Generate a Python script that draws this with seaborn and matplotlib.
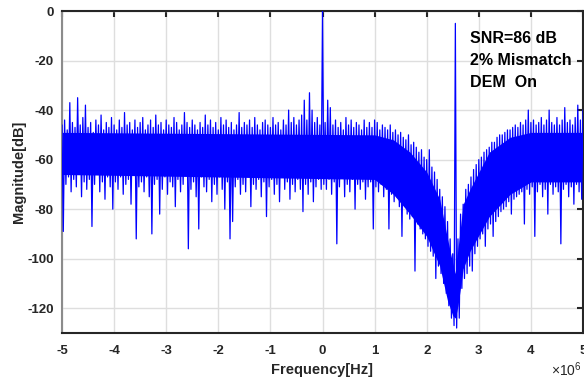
import numpy as np
import matplotlib
matplotlib.use("Agg")
import matplotlib.pyplot as plt
import matplotlib.ticker as mticker
import seaborn as sns

# FFT bin grid, -5 MHz .. 5 MHz
freq_hz = np.linspace(-5e6, 5e6, 401)

# magnitude, dB
mag_left_db = [  # -5.000 .. -0.025 MHz
    -46, -89, -44, -70, -48, -67, -37, -73, -45, -68, -47, -71, -35, -66, -46, -75, -43, -69, -38, -72,
    -47, -68, -45, -87, -49, -70, -44, -66, -46, -73, -42, -69, -48, -76, -45, -67, -47, -71, -43, -80,
    -46, -69, -48, -72, -44, -67, -47, -74, -41, -70, -46, -68, -45, -78, -48, -66, -44, -92, -47, -71,
    -45, -69, -43, -73, -48, -67, -46, -75, -44, -90, -47, -70, -42, -68, -46, -82, -45, -72, -48, -67,
    -44, -74, -46, -69, -47, -71, -43, -79, -45, -68, -48, -73, -46, -70, -41, -66, -45, -96, -47, -72,
    -44, -69, -46, -75, -48, -88, -45, -67, -47, -71, -42, -73, -46, -68, -44, -77, -47, -70, -45, -74,
    -48, -67, -43, -72, -46, -80, -44, -69, -47, -92, -45, -85, -48, -71, -46, -68, -41, -74, -47, -70,
    -45, -73, -46, -67, -44, -79, -47, -70, -43, -72, -46, -68, -48, -75, -45, -69, -44, -83, -46, -71,
    -47, -68, -43, -74, -46, -70, -45, -77, -48, -67, -44, -72, -46, -69, -40, -76, -45, -70, -43, -73,
    -46, -68, -44, -72, -42, -81, -36, -70, -44, -74, -33, -69, -40, -77, -45, -71, -43, -68, -46, -72,
]
tone_dc_db = [0]  # 0 Hz
mag_notch_db = [  # 0.025 .. 2.525 MHz
    -70, -45, -72, -36, -68, -39, -74, -46, -69, -44, -94, -47, -71, -45, -67, -48, -75, -43, -70, -46,
    -73, -44, -68, -47, -80, -45, -70, -46, -72, -48, -69, -44, -76, -47, -71, -45, -69, -47, -88, -44,
    -71, -45, -73, -48, -70, -46, -75, -47, -72, -48, -88, -46, -74, -49, -77, -48, -75, -50, -79, -49,
    -91, -51, -78, -52, -82, -50, -84, -54, -83, -53, -105, -55, -86, -57, -88, -56, -90, -59, -92, -60,
    -95, -56, -97, -63, -99, -65, -108, -68, -103, -72, -106, -75, -110, -79, -114, -85, -119, -92, -124, -98,
    -127,
]
tone_sig_db = [-5]  # 2.55 MHz
mag_right_db = [  # 2.575 .. 5.000 MHz
    -128, -92, -124, -82, -112, -78, -108, -72, -106, -70, -103, -67, -105, -64, -98, -62, -95, -60,
    -92, -59, -90, -57, -95, -56, -88, -55, -86, -53, -91, -53, -85, -51, -83, -50, -81, -50, -80, -49,
    -79, -48, -77, -48, -82, -47, -76, -46, -75, -47, -74, -45, -73, -46, -86, -44, -72, -40, -74, -45,
    -71, -44, -91, -46, -73, -45, -70, -43, -75, -46, -72, -44, -82, -40, -70, -45, -74, -46, -71, -43,
    -73, -46, -94, -44, -72, -39, -70, -45, -75, -44, -71, -46, -78, -43, -70, -38, -73, -44, -76, -40,
]
mag_db = np.concatenate([mag_left_db, tone_dc_db, mag_notch_db, tone_sig_db, mag_right_db]).astype(float)

# solid core of the noise band (where the trace is fully dense)
core_f_mhz = [-5, 1.0, 1.36, 1.68, 2.0, 2.25, 2.4, 2.5, 2.55, 2.6, 2.7, 2.83, 3.2, 3.6, 4.0, 5]
core_top_db = [-49, -50, -52, -57, -65, -76, -92, -102, -106, -96, -78, -72, -57, -51, -49, -49]
core_bot_db = [-66, -68, -74, -82, -91, -103, -117, -123, -124, -119, -104, -97, -83, -74, -69, -69]

note_lines = ["SNR=86 dB", "2% Mismatch", "DEM  On"]

sns.set_style("whitegrid")
plt.rcParams["font.family"] = ["Liberation Sans", "DejaVu Sans"]
plt.rcParams["axes.unicode_minus"] = False

fig = plt.figure(figsize=(5.84, 3.8), dpi=100)
ax = fig.add_axes([62 / 584, 47 / 380, 521 / 584, 322 / 380])

core_f_hz = np.array(core_f_mhz) * 1e6
ax.fill_between(core_f_hz, core_bot_db, core_top_db, color="#0000ff", linewidth=0, zorder=2)
sns.lineplot(x=freq_hz, y=mag_db, ax=ax, color="#0000ff", linewidth=0.9,
             estimator=None, sort=False, errorbar=None, zorder=3)

ax.set_xlim(-5e6, 5e6)
ax.set_ylim(-130, 0)
ax.set_xticks(np.arange(-5e6, 5.1e6, 1e6))
ax.set_yticks(np.arange(-120, 1, 20))
ax.xaxis.set_major_formatter(mticker.FuncFormatter(lambda v, p: f"{v / 1e6:g}"))

ax.grid(True, color="#dedede", linewidth=1)
ax.set_axisbelow(True)
ax.tick_params(direction="in", length=4, width=1.5, top=True, right=True,
               labelsize=9.5, colors="#262626")
ax.tick_params(axis="x", pad=9)
ax.tick_params(axis="y", pad=6)
for lab in ax.get_xticklabels() + ax.get_yticklabels():
    lab.set_fontweight("bold")

for side in ["top", "bottom", "right"]:
    ax.spines[side].set_color("#262626")
    ax.spines[side].set_linewidth(1.5)
ax.spines["left"].set_color("#8c8c8c")
ax.spines["left"].set_linewidth(1.5)

ax.set_xlabel("Frequency[Hz]", fontsize=10.5, fontweight="bold", color="#262626", labelpad=4)
ax.set_ylabel("Magnitude[dB]", fontsize=10.5, fontweight="bold", color="#262626", labelpad=1)
ax.text(0.998, -0.115, r"$\mathregular{\times10^{6}}$", transform=ax.transAxes,
        fontsize=10, color="#262626", ha="right", va="center")

for k, line in enumerate(note_lines):
    ax.text(2.83e6, -11 - 9 * k, line, fontsize=11.5, fontweight="bold",
            color="black", va="center", ha="left")

fig.savefig("out.png", dpi=100)
